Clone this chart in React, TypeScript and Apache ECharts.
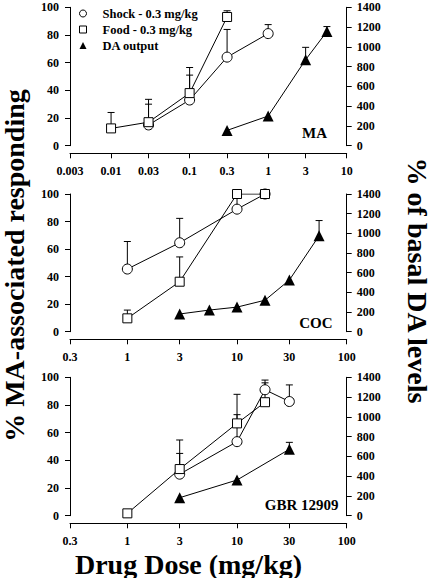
import React, { useEffect, useRef } from "react";
import * as echarts from "echarts";

const FONT = "'Liberation Serif', 'Times New Roman', Times, serif";

// ---------- tick labels ----------
const ticksMA = [0.003, 0.01, 0.03, 0.1, 0.3, 1, 3, 10];
const ticksCOC = [0.3, 1, 3, 10, 30, 100];
const ticksGBR = [0.3, 1, 3, 10, 30, 100];

// ---------- MA panel ----------
const maShockDose = [0.03, 0.1, 0.3, 1];
const maShockVal = [15, 33, 64, 81];
const maShockSem = [15, 18, 20, 6.5];
const maFoodDose = [0.01, 0.03, 0.1, 0.3];
const maFoodVal = [12.5, 17, 38, 93];
const maFoodSem = [11.5, 16.5, 18.5, 4.5];
const maDaDose = [0.3, 1, 3, 5.6];
const maDaVal = [155, 300, 870, 1155];
const maDaSem = [0, 0, 125, 50];

// ---------- COC panel ----------
const cocShockDose = [1, 3, 10, 18];
const cocShockVal = [45.5, 64.6, 89, 100];
const cocShockSem = [20, 17.7, 8, 0];
const cocFoodDose = [1, 3, 10, 18];
const cocFoodVal = [9.7, 36.3, 100, 100];
const cocFoodSem = [6, 18, 0, 0];
const cocDaDose = [3, 5.6, 10, 18, 30, 56];
const cocDaVal = [180, 220, 250, 320, 525, 975];
const cocDaSem = [0, 0, 0, 0, 0, 155];

// ---------- GBR 12909 panel ----------
const gbrShockDose = [3, 10, 18, 30];
const gbrShockVal = [30, 53.5, 91, 82.5];
const gbrShockSem = [15, 19.5, 7, 12];
const gbrFoodDose = [1, 3, 10, 18];
const gbrFoodVal = [1.7, 33.7, 66.7, 82];
const gbrFoodSem = [0, 21, 21, 14];
const gbrDaDose = [3, 10, 30];
const gbrDaVal = [182, 361, 672];
const gbrDaSem = [0, 0, 70];

const SHOCK = "Shock - 0.3 mg/kg";
const FOOD = "Food - 0.3 mg/kg";
const DA = "DA output";

const panels = [
  {
    label: "MA", ticks: ticksMA,
    shock: [maShockDose, maShockVal, maShockSem],
    food: [maFoodDose, maFoodVal, maFoodSem],
    da: [maDaDose, maDaVal, maDaSem],
  },
  {
    label: "COC", ticks: ticksCOC,
    shock: [cocShockDose, cocShockVal, cocShockSem],
    food: [cocFoodDose, cocFoodVal, cocFoodSem],
    da: [cocDaDose, cocDaVal, cocDaSem],
  },
  {
    label: "GBR 12909", ticks: ticksGBR,
    shock: [gbrShockDose, gbrShockVal, gbrShockSem],
    food: [gbrFoodDose, gbrFoodVal, gbrFoodSem],
    da: [gbrDaDose, gbrDaVal, gbrDaSem],
  },
];

// ---------- layout ----------
const GRID_LEFT = 70;
const GRID_WIDTH = 276.7;
const gridTops = [7.3, 194, 377.3];
const gridHeights = [138.4, 137.7, 138.4];
const X_OFFSET = 7.6;
const labelPos = [
  { x: 327, y: 133 },
  { x: 332.5, y: 323 },
  { x: 338.5, y: 505 },
];

const lg = (v: number) => Math.log10(v);

const fmtTick = (ticks: number[]) => (v: number) => {
  for (const t of ticks) if (Math.abs(lg(t) - v) < 1e-6) return String(t);
  return "";
};

const errRender = (params: any, api: any) => {
  const x = api.value(0);
  const y = api.value(1);
  const e = api.value(2);
  if (!e) return null;
  const p0 = api.coord([x, y]);
  const p1 = api.coord([x, y + e]);
  const style = { stroke: "#000", lineWidth: 1 };
  return {
    type: "group",
    children: [
      { type: "line", shape: { x1: p0[0], y1: p0[1], x2: p1[0], y2: p1[1] }, style },
      { type: "line", shape: { x1: p1[0] - 3.5, y1: p1[1], x2: p1[0] + 3.5, y2: p1[1] }, style },
    ],
  };
};

const tickLabel = {
  fontFamily: FONT,
  fontWeight: "bold" as const,
  fontSize: 12,
  color: "#000",
};

function buildOption() {
  const grid: any[] = [];
  const xAxis: any[] = [];
  const yAxis: any[] = [];
  const series: any[] = [];
  const graphic: any[] = [];

  panels.forEach((p, i) => {
    grid.push({ left: GRID_LEFT, width: GRID_WIDTH, top: gridTops[i], height: gridHeights[i], containLabel: false });
    const tv = p.ticks.map(lg);
    xAxis.push({
      type: "value",
      gridIndex: i,
      min: lg(p.ticks[0]),
      max: lg(p.ticks[p.ticks.length - 1]),
      offset: X_OFFSET,
      axisLine: { show: true, onZero: false, lineStyle: { color: "#000", width: 1 } },
      axisTick: { show: true, length: 5, customValues: tv, lineStyle: { color: "#000", width: 1 } },
      axisLabel: { ...tickLabel, margin: 11.5, customValues: tv, formatter: fmtTick(p.ticks) },
      splitLine: { show: false },
    });
    yAxis.push({
      type: "value",
      gridIndex: i,
      position: "left",
      min: 0,
      max: 100,
      interval: 20,
      axisLine: { show: true, onZero: false, lineStyle: { color: "#000", width: 1 } },
      axisTick: { show: true, length: 5, lineStyle: { color: "#000", width: 1 } },
      axisLabel: { ...tickLabel, margin: 11, formatter: (v: number) => String(v) },
      splitLine: { show: false },
    });
    yAxis.push({
      type: "value",
      gridIndex: i,
      position: "right",
      min: 0,
      max: 1400,
      interval: 200,
      axisLine: { show: true, onZero: false, lineStyle: { color: "#000", width: 1 } },
      axisTick: { show: true, length: 5, lineStyle: { color: "#000", width: 1 } },
      axisLabel: { ...tickLabel, margin: 10, formatter: (v: number) => String(v) },
      splitLine: { show: false },
    });

    const groups: [string, any[], number, string, number, any][] = [
      [SHOCK, p.shock, i * 2, "circle", 10, { color: "#fff", borderColor: "#000", borderWidth: 1 }],
      [FOOD, p.food, i * 2, "rect", 9, { color: "#fff", borderColor: "#000", borderWidth: 1 }],
      [DA, p.da, i * 2 + 1, "triangle", 11, { color: "#000", borderColor: "#000", borderWidth: 0 }],
    ];
    groups.forEach(([name, [dose, val, sem], yi, sym, size, itemStyle]) => {
      series.push({
        type: "custom",
        xAxisIndex: i,
        yAxisIndex: yi,
        z: 1,
        renderItem: errRender,
        encode: { x: 0, y: 1 },
        data: dose.map((d: number, k: number) => [lg(d), val[k], sem[k]]),
        silent: true,
      });
      series.push({
        type: "line",
        name,
        xAxisIndex: i,
        yAxisIndex: yi,
        z: 3,
        symbol: sym,
        symbolSize: size,
        showAllSymbol: true,
        itemStyle,
        lineStyle: { color: "#000", width: 1 },
        data: dose.map((d: number, k: number) => [lg(d), val[k]]),
      });
    });

    graphic.push({
      type: "text",
      x: labelPos[i].x,
      y: labelPos[i].y,
      style: {
        text: p.label,
        font: `bold 15px ${FONT}`,
        fill: "#000",
        textAlign: "right",
        textVerticalAlign: "middle",
      },
    });
  });

  graphic.push(
    {
      type: "text",
      x: 14,
      y: 265.5,
      rotation: Math.PI / 2,
      style: {
        text: "% MA-associated responding",
        font: `bold 28px ${FONT}`,
        fill: "#000",
        textAlign: "center",
        textVerticalAlign: "middle",
      },
    },
    {
      type: "text",
      x: 417,
      y: 280.5,
      rotation: -Math.PI / 2,
      style: {
        text: "% of basal DA levels",
        font: `bold 28px ${FONT}`,
        fill: "#000",
        textAlign: "center",
        textVerticalAlign: "middle",
      },
    },
    {
      type: "text",
      x: 188.5,
      y: 564,
      style: {
        text: "Drug Dose (mg/kg)",
        font: `bold 28px ${FONT}`,
        fill: "#000",
        textAlign: "center",
        textVerticalAlign: "middle",
      },
    }
  );

  return {
    animation: false,
    backgroundColor: "#fff",
    grid,
    xAxis,
    yAxis,
    series,
    graphic,
    legend: {
      left: 79,
      top: 7,
      orient: "vertical",
      padding: 0,
      itemWidth: 7,
      itemHeight: 7,
      itemGap: 3,
      selectedMode: false,
      textStyle: {
        fontFamily: FONT,
        fontWeight: "bold",
        fontSize: 12.5,
        color: "#000",
        padding: [0, 0, 0, 11],
      },
      data: [
        { name: SHOCK, icon: "circle", itemStyle: { color: "#fff", borderColor: "#000", borderWidth: 1 } },
        { name: FOOD, icon: "rect", itemStyle: { color: "#fff", borderColor: "#000", borderWidth: 1 } },
        { name: DA, icon: "triangle", itemStyle: { color: "#000", borderWidth: 0 } },
      ],
    },
  };
}

export default function App() {
  const ref = useRef<HTMLDivElement>(null);
  useEffect(() => {
    if (!ref.current) return;
    const chart = echarts.init(ref.current, undefined, { renderer: "svg" });
    chart.setOption(buildOption() as any);
    return () => chart.dispose();
  }, []);
  return (
    <div
      ref={ref}
      style={{ position: "fixed", left: 0, top: 0, width: 434, height: 578, background: "#fff" }}
    />
  );
}
